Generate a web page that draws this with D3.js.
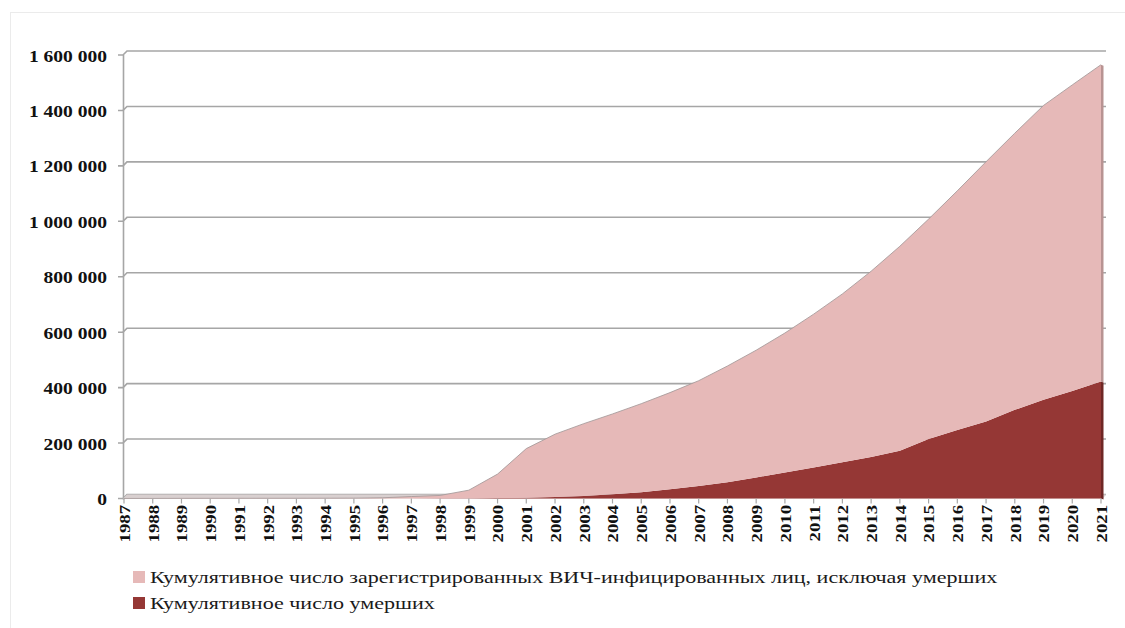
<!DOCTYPE html>
<html>
<head>
<meta charset="utf-8">
<script src="https://cdn.jsdelivr.net/npm/d3@7"></script>
<style>
  body { margin: 0; background: #fff; }
  text { font-family: "Liberation Serif", "Times New Roman", serif; }
</style>
</head>
<body>
<div id="chart"></div>
<script>
// Data arrays
let years = d3.range(1987, 2022).map(String);
let living = [130, 250, 520, 600, 660, 740, 810, 920, 1060, 2340,
  6620, 10440, 29150, 86600, 177000, 226500, 261000, 290000, 319000, 349000,
  380000, 419000, 459000, 503000, 553000, 607000, 670000, 738000, 793000, 863000,
  937000, 998000, 1062000, 1104000, 1143000];
let deaths = [0, 0, 10, 20, 40, 60, 90, 130, 190, 260,
  380, 560, 850, 1400, 3000, 5500, 9000, 15000, 23000, 33000,
  45000, 59000, 76000, 94000, 112000, 131000, 150000, 172000, 215000, 247000,
  278000, 320000, 356000, 388000, 422000];
let yTicks = [0, 200000, 400000, 600000, 800000, 1000000, 1200000, 1400000, 1600000];
let legendLabels = [
  "Кумулятивное число зарегистрированных ВИЧ-инфицированных лиц, исключая умерших",
  "Кумулятивное число умерших"
];
let colors = { living: "#e6b9b8", deaths: "#953735" };

// svg attributes
let svgWidth = 1125;
let svgHeight = 628;
let depth = 4; // fake 3D offset of the back wall

let svg = d3.select("#chart")
  .append("svg")
  .attr("width", svgWidth)
  .attr("height", svgHeight);

// faint outer frame
svg.append("rect")
  .attr("x", 10.5).attr("y", 12.5)
  .attr("width", 1125).attr("height", 640)
  .attr("fill", "none").attr("stroke", "#ebebeb");

let xScale = d3.scalePoint()
  .domain(years)
  .range([124, 1101]);

let yScale = d3.scaleLinear()
  .domain([0, 1600000])
  .range([498.5, 55]);

// gridlines on the back wall, with the little elbow at the left wall
let grid = svg.append("g");
grid.selectAll("path")
  .data(yTicks)
  .enter()
  .append("path")
  .attr("d", d => `M118,${yScale(d)} L123,${yScale(d)} L${123 + depth},${yScale(d) - depth} L1106,${yScale(d) - depth}`)
  .attr("fill", "none")
  .attr("stroke", "#a6a6a6")
  .attr("stroke-width", 1.6);

// left wall line
svg.append("line")
  .attr("x1", 123.5).attr("x2", 123.5)
  .attr("y1", yScale(1600000)).attr("y2", yScale(0) + 1)
  .attr("stroke", "#a6a6a6").attr("stroke-width", 1.6);

// floor band
svg.append("path")
  .attr("d", `M123,${yScale(0)} L${123 + depth},${yScale(0) - depth} L1106,${yScale(0) - depth} L1103,${yScale(0)} Z`)
  .attr("fill", "#d9d0d0");

// stacked areas
let rows = years.map((y, i) => ({ year: y, deaths: deaths[i], living: living[i] }));
let stacked = d3.stack().keys(["deaths", "living"])(rows);

let area = d3.area()
  .x(d => xScale(d.data.year))
  .y0(d => yScale(d[0]))
  .y1(d => yScale(d[1]));

let topLine = d3.line()
  .x(d => xScale(d.data.year))
  .y(d => yScale(d[1]));

svg.append("g")
  .selectAll("path")
  .data(stacked)
  .enter()
  .append("path")
  .attr("d", area)
  .attr("fill", d => colors[d.key]);

// thin grey edge on the top of the pink area
svg.append("path")
  .attr("d", topLine(stacked[1]))
  .attr("fill", "none")
  .attr("stroke", "#a89c9c")
  .attr("stroke-width", 0.9);

// darker side faces at the right end
let last = years.length - 1;
let xr = xScale(years[last]);
svg.selectAll(".side")
  .data(stacked)
  .enter()
  .append("path")
  .attr("class", "side")
  .attr("d", d => `M${xr},${yScale(d[last][1])} L${xr + 2.5},${yScale(d[last][1]) + 1} L${xr + 2.5},${yScale(d[last][0]) + 1} L${xr},${yScale(d[last][0])} Z`)
  .attr("fill", d => d.key === "living" ? "#b89392" : "#6f2725");

// x ticks
svg.append("g")
  .selectAll("line")
  .data(years)
  .enter()
  .append("line")
  .attr("x1", d => xScale(d)).attr("x2", d => xScale(d))
  .attr("y1", yScale(0)).attr("y2", yScale(0) + 5)
  .attr("stroke", "#a6a6a6").attr("stroke-width", 1.2);

// x labels, rotated
svg.append("g")
  .selectAll("text")
  .data(years)
  .enter()
  .append("text")
  .attr("transform", d => `translate(${xScale(d) + 1},505) rotate(-90) scale(1.25,1)`)
  .attr("text-anchor", "end")
  .attr("dominant-baseline", "central")
  .attr("font-size", 15)
  .attr("font-weight", "bold")
  .attr("fill", "#111")
  .text(d => d);

// y labels
svg.append("g")
  .selectAll("text")
  .data(yTicks)
  .enter()
  .append("text")
  .attr("transform", d => `translate(107,${yScale(d) + 1}) scale(1.15,1)`)
  .attr("text-anchor", "end")
  .attr("dominant-baseline", "central")
  .attr("font-size", 17)
  .attr("font-weight", "bold")
  .attr("fill", "#111")
  .text(d => d3.format(",")(d).replace(/,/g, " "));

// legend
let legendY = [577, 603];
let legendEnds = [998, 435];
let legend = svg.append("g");
legend.selectAll("rect")
  .data(["living", "deaths"])
  .enter()
  .append("rect")
  .attr("x", 133)
  .attr("y", (d, i) => legendY[i] - 6)
  .attr("width", 12).attr("height", 12)
  .attr("fill", d => colors[d]);

legend.selectAll("text")
  .data(legendLabels)
  .enter()
  .append("text")
  .attr("x", 0).attr("y", 0)
  .attr("dominant-baseline", "central")
  .attr("font-size", 17)
  .attr("fill", "#1a1a1a")
  .text(d => d)
  .each(function (d, i) {
    let w = this.getComputedTextLength();
    let sx = (legendEnds[i] - 150) / w;
    d3.select(this).attr("transform", `translate(150,${legendY[i]}) scale(${sx},1)`);
  });
</script>
</body>
</html>
